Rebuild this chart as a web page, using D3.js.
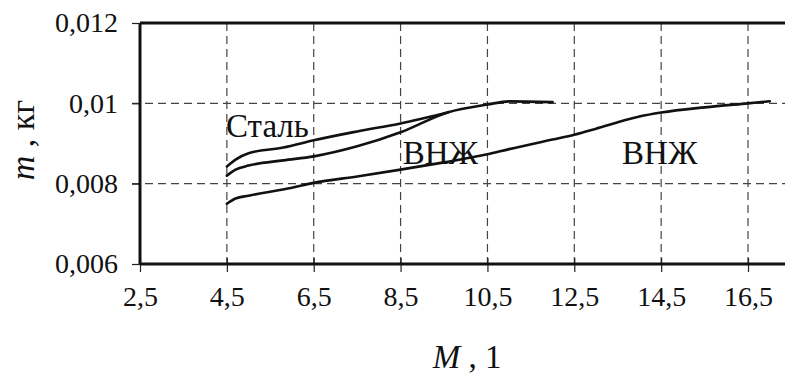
<!DOCTYPE html>
<html>
<head>
<meta charset="utf-8">
<script src="https://cdn.jsdelivr.net/npm/d3@7"></script>
<style>
  html, body { margin: 0; padding: 0; background: #fff; }
  svg { display: block; }
  svg text { font-family: "Liberation Serif", "Times New Roman", Times, serif; }
  .grid line { stroke: #444; stroke-width: 1.2; stroke-dasharray: 8 5; }
  .curve { fill: none; stroke: #111; stroke-width: 2.6; stroke-linecap: round; }
</style>
</head>
<body>
<div id="chart"></div>
<script>
// x ticks (M) and y ticks (m, kg)
const xTicks = [2.5, 4.5, 6.5, 8.5, 10.5, 12.5, 14.5, 16.5]
const yTicks = [0.006, 0.008, 0.01, 0.012]

// Сталь (upper short curve)
const steelM = [4.5, 4.7, 5.0, 5.8, 6.5, 7.5, 8.5, 9.6]
const steelMass = [0.00843, 0.0086, 0.00876, 0.0089, 0.00908, 0.0093, 0.0095, 0.00978]

// ВНЖ (middle short curve)
const vnzh1M = [4.5, 4.7, 5.0, 5.8, 6.5, 7.5, 8.5, 9.6, 10.5, 11.0, 12.0]
const vnzh1Mass = [0.0082, 0.00835, 0.00845, 0.00858, 0.00868, 0.00893, 0.00928, 0.00978, 0.00997, 0.01005, 0.01003]

// ВНЖ (lower long curve)
const vnzh2M = [4.5, 4.7, 5.0, 6.0, 6.5, 7.5, 8.5, 9.5, 10.5, 11.0, 12.0, 12.5, 13.0, 13.5, 14.0, 14.5, 15.5, 16.5, 17.0]
const vnzh2Mass = [0.0075, 0.00763, 0.0077, 0.0079, 0.00802, 0.00818, 0.00835, 0.00853, 0.00873, 0.00886, 0.0091, 0.00922, 0.00937, 0.00953, 0.00967, 0.00977, 0.0099, 0.01, 0.01005]

const width = 785, height = 374
const margin = { left: 140, top: 23, bottom: 110 }
const innerHeight = height - margin.top - margin.bottom
const serif = "Liberation Serif, Times New Roman, serif"

const fmt = d3.formatLocale({ decimal: ",", thousands: " ", grouping: [3], currency: ["", ""] }).format("~g")

const svg = d3.select("#chart").append("svg")
    .attr("width", width)
    .attr("height", height)
    .attr("font-family", serif)

const x = d3.scaleLinear().domain([2.5, 18.5]).range([margin.left, margin.left + 16 * 43.43])
const y = d3.scaleLinear().domain([0.006, 0.012]).range([margin.top + innerHeight, margin.top])

// grid
svg.append("g").attr("class", "grid")
    .selectAll("line")
    .data(xTicks.slice(1))
    .join("line")
    .attr("x1", d => x(d)).attr("x2", d => x(d))
    .attr("y1", y(0.012)).attr("y2", y(0.006))

svg.append("g").attr("class", "grid")
    .selectAll("line")
    .data([0.008, 0.01])
    .join("line")
    .attr("x1", margin.left - 8).attr("x2", width)
    .attr("y1", d => y(d)).attr("y2", d => y(d))

// x axis
const xAxis = svg.append("g")
    .attr("transform", `translate(0,${y(0.006)})`)
    .call(d3.axisBottom(x).tickValues(xTicks).tickFormat(fmt).tickSize(8).tickPadding(14))
    .attr("font-family", serif)
xAxis.select(".domain").remove()
xAxis.selectAll(".tick line").attr("stroke", "#222").attr("stroke-width", 1.2).attr("y1", -6)
xAxis.selectAll(".tick text").attr("font-size", 28).attr("fill", "#111")

// y axis
const yAxis = svg.append("g")
    .attr("transform", `translate(${margin.left},0)`)
    .call(d3.axisLeft(y).tickValues(yTicks).tickFormat(fmt).tickSize(8).tickPadding(14))
    .attr("font-family", serif)
yAxis.select(".domain").remove()
yAxis.selectAll(".tick line").attr("stroke", "#222").attr("stroke-width", 1.2)
yAxis.selectAll(".tick text").attr("font-size", 28).attr("fill", "#111")

// frame
const frame = svg.append("g").attr("stroke", "#111").attr("stroke-width", 3).attr("fill", "none")
frame.append("line").attr("x1", x(2.5)).attr("x2", width).attr("y1", y(0.012)).attr("y2", y(0.012))
frame.append("line").attr("x1", x(2.5)).attr("x2", width).attr("y1", y(0.006)).attr("y2", y(0.006))
frame.append("line").attr("x1", x(2.5)).attr("x2", x(2.5)).attr("y1", y(0.012)).attr("y2", y(0.006))

// curves
const line = d3.line().curve(d3.curveMonotoneX).x(d => x(d[0])).y(d => y(d[1]))
const series = [
    d3.zip(steelM, steelMass),
    d3.zip(vnzh1M, vnzh1Mass),
    d3.zip(vnzh2M, vnzh2Mass),
]
svg.append("g").selectAll("path")
    .data(series)
    .join("path")
    .attr("class", "curve")
    .attr("d", line)

// curve labels
const labels = [
    { text: "Сталь", m: 4.48, v: 0.00915 },
    { text: "ВНЖ", m: 8.55, v: 0.00848 },
    { text: "ВНЖ", m: 13.6, v: 0.00848 },
]
svg.append("g").selectAll("text")
    .data(labels)
    .join("text")
    .attr("x", d => x(d.m))
    .attr("y", d => y(d.v))
    .attr("font-size", 33)
    .attr("fill", "#111")
    .text(d => d.text)

// axis titles
const xTitle = svg.append("text")
    .attr("x", 467).attr("y", 368)
    .attr("text-anchor", "middle")
    .attr("font-size", 33)
    .attr("fill", "#111")
xTitle.append("tspan").attr("font-style", "italic").text("M")
xTitle.append("tspan").text(" , 1")

const yTitle = svg.append("text")
    .attr("transform", `translate(34,${140}) rotate(-90)`)
    .attr("text-anchor", "middle")
    .attr("font-size", 34)
    .attr("fill", "#111")
yTitle.append("tspan").attr("font-style", "italic").text("m")
yTitle.append("tspan").text(" , кг")
</script>
</body>
</html>
